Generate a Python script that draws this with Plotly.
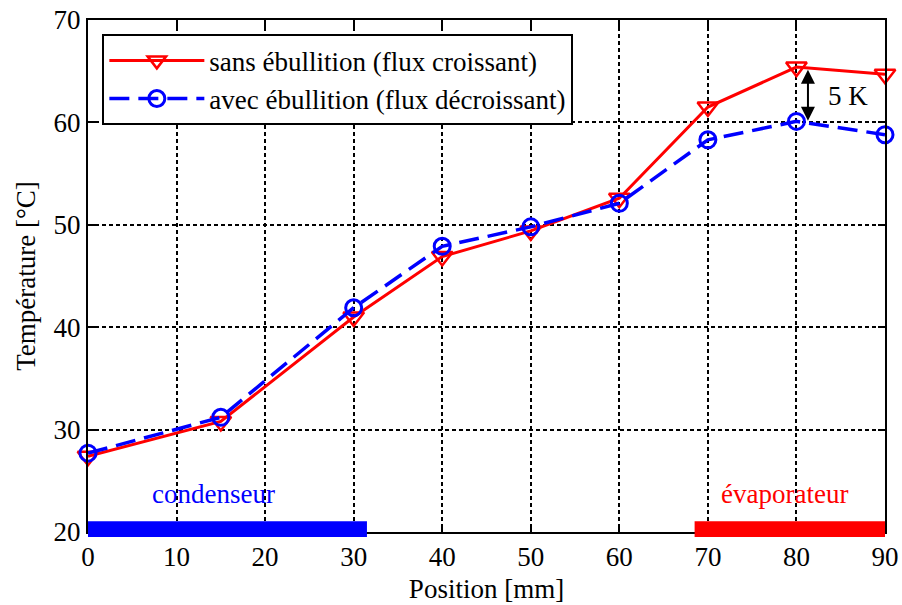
import plotly.graph_objects as go

position = [0, 15, 30, 40, 50, 60, 70, 80, 90]
t_sans = [27.4, 30.8, 41.0, 46.9, 49.4, 52.6, 61.5, 65.4, 64.7]
t_avec = [27.7, 31.2, 41.9, 47.9, 49.8, 52.1, 58.3, 60.1, 58.8]
name_sans = "sans ébullition (flux croissant)"
name_avec = "avec ébullition (flux décroissant)"
x_ticks = [0, 10, 20, 30, 40, 50, 60, 70, 80, 90]
y_ticks = [20, 30, 40, 50, 60, 70]
cond_range = [0, 31.5]
evap_range = [68.5, 90.3]
arrow_x = 81.3

font = "Liberation Serif"
fs = 27
fig = go.Figure()
fig.add_trace(go.Scatter(x=position, y=t_sans, name=name_sans, mode="lines+markers",
                         line=dict(color="#ff0000", width=3),
                         marker=dict(symbol="triangle-down-open", size=18, color="#ff0000",
                                     line=dict(width=2.5, color="#ff0000")),
                         cliponaxis=False))
fig.add_trace(go.Scatter(x=position, y=t_avec, name=name_avec, mode="lines+markers",
                         line=dict(color="#0000ff", width=3.5, dash="20px,9px"),
                         marker=dict(symbol="circle-open", size=16, color="#0000ff",
                                     line=dict(width=3, color="#0000ff")),
                         cliponaxis=False))

# zone bars
fig.add_shape(type="rect", xref="x", yref="paper", x0=cond_range[0], x1=cond_range[1],
              y0=-0.01, y1=0.021, fillcolor="#0000ff", line=dict(width=0), layer="above")
fig.add_shape(type="rect", xref="x", yref="paper", x0=evap_range[0], x1=evap_range[1],
              y0=-0.01, y1=0.021, fillcolor="#ff0000", line=dict(width=0), layer="above")

fig.add_annotation(x=14.2, y=23.7, text="condenseur", showarrow=False,
                   font=dict(family=font, size=fs, color="#0000ff"))
fig.add_annotation(x=78.7, y=23.7, text="évaporateur", showarrow=False,
                   font=dict(family=font, size=fs, color="#ff0000"))

# 5 K double arrow
fig.add_annotation(x=arrow_x, y=t_avec[7] + 0.05, ax=arrow_x, ay=t_sans[7] - 0.1,
                   xref="x", yref="y", axref="x", ayref="y", text="",
                   showarrow=True, arrowhead=2, startarrowhead=2, arrowside="end+start",
                   arrowwidth=2, arrowsize=1.4, startarrowsize=1.4, arrowcolor="black")
fig.add_annotation(x=85.8, y=62.6, text="5 K", showarrow=False,
                   font=dict(family=font, size=fs, color="black"))

axis_common = dict(showline=True, linecolor="black", linewidth=2, mirror="ticks",
                   ticks="inside", ticklen=7, tickwidth=1.5, tickcolor="black",
                   showgrid=True, gridcolor="black", gridwidth=2, griddash="4px,3px",
                   zeroline=False, automargin=False,
                   tickfont=dict(family=font, size=fs, color="black"),
                   title_font=dict(family=font, size=fs, color="black"))
fig.update_xaxes(range=[0, 90], tickvals=x_ticks, title_text="Position [mm]",
                 title_standoff=8, **axis_common)
fig.update_yaxes(range=[20, 70], tickvals=y_ticks, title_text="Température [°C]",
                 title_standoff=10, **axis_common)

fig.update_layout(width=902, height=605, plot_bgcolor="white", paper_bgcolor="white",
                  margin=dict(l=88, r=17, t=20, b=73, autoexpand=False),
                  font=dict(family=font, size=fs, color="black"),
                  legend=dict(x=0.018, y=0.972, xanchor="left", yanchor="top",
                              bgcolor="white", bordercolor="black", borderwidth=2,
                              font=dict(family=font, size=fs, color="black"),
                              itemwidth=95, tracegroupgap=0))
fig.write_html("out.html", config={"displayModeBar": False},
               post_script="document.body.style.margin='0px';")
